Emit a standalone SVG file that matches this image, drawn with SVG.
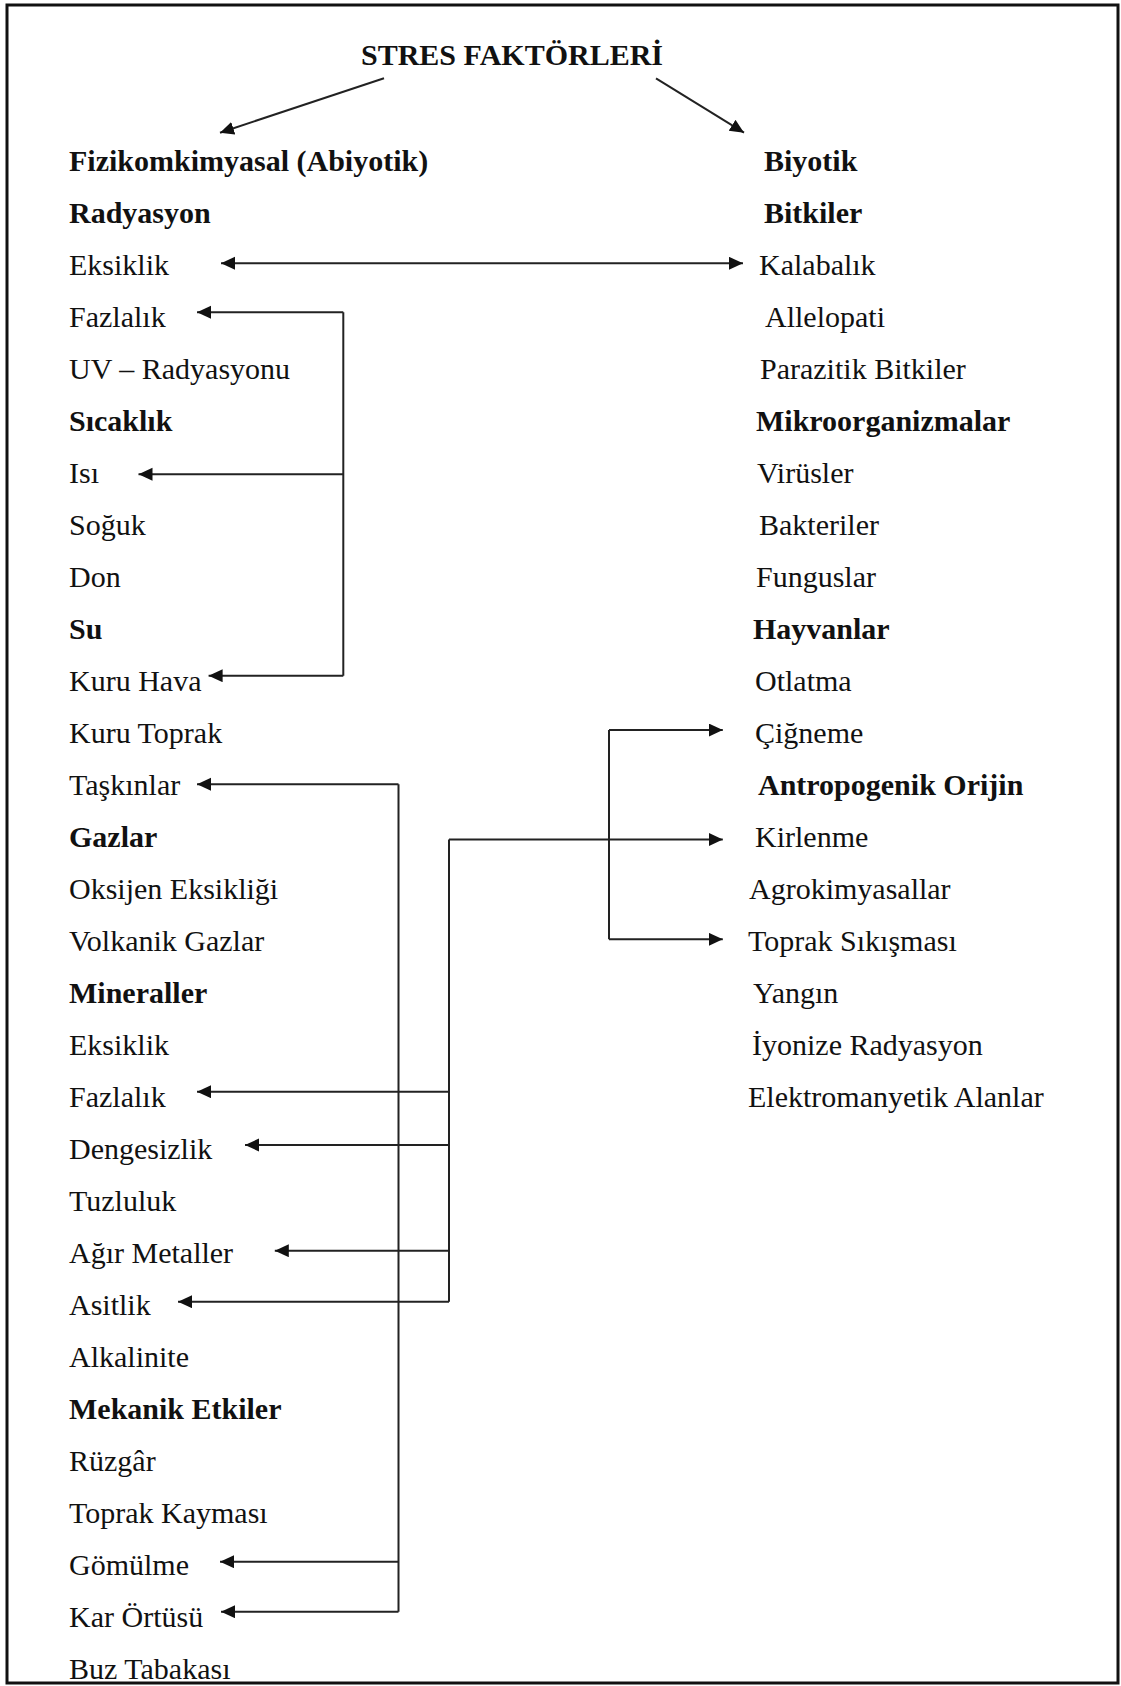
<svg xmlns="http://www.w3.org/2000/svg" width="1121" height="1686" viewBox="0 0 1121 1686">
<defs>
<style>
text{font-family:"Liberation Serif","Times New Roman",serif;font-size:30px;fill:#111}
.b{font-weight:bold}
.ln{fill:none;stroke:#222;stroke-width:2}
</style>
<marker id="ah" markerUnits="userSpaceOnUse" markerWidth="16" markerHeight="14" refX="14" refY="6.5" orient="auto-start-reverse">
<path d="M0,0 L14,6.5 L0,13 Z" fill="#111"/>
</marker>
</defs>
<rect x="0" y="0" width="1121" height="1686" fill="#fff"/>
<rect x="7" y="5" width="1111" height="1678" fill="none" stroke="#111" stroke-width="3"/>

<g id="title"><text class="b" x="361" y="65">STRES FAKTÖRLERİ</text></g>

<g id="left-column">
<g id="l0"><text class="b" x="69" y="170.7">Fizikomkimyasal (Abiyotik)</text></g>
<g id="l1"><text class="b" x="69" y="222.7">Radyasyon</text></g>
<g id="l2"><text x="69" y="274.7">Eksiklik</text></g>
<g id="l3"><text x="69" y="326.7">Fazlalık</text></g>
<g id="l4"><text x="69" y="378.7">UV – Radyasyonu</text></g>
<g id="l5"><text class="b" x="69" y="430.7">Sıcaklık</text></g>
<g id="l6"><text x="69" y="482.7">Isı</text></g>
<g id="l7"><text x="69" y="534.7">Soğuk</text></g>
<g id="l8"><text x="69" y="586.7">Don</text></g>
<g id="l9"><text class="b" x="69" y="638.7">Su</text></g>
<g id="l10"><text x="69" y="690.7">Kuru Hava</text></g>
<g id="l11"><text x="69" y="742.7">Kuru Toprak</text></g>
<g id="l12"><text x="69" y="794.7">Taşkınlar</text></g>
<g id="l13"><text class="b" x="69" y="846.7">Gazlar</text></g>
<g id="l14"><text x="69" y="898.7">Oksijen Eksikliği</text></g>
<g id="l15"><text x="69" y="950.7">Volkanik Gazlar</text></g>
<g id="l16"><text class="b" x="69" y="1002.7">Mineraller</text></g>
<g id="l17"><text x="69" y="1054.7">Eksiklik</text></g>
<g id="l18"><text x="69" y="1106.7">Fazlalık</text></g>
<g id="l19"><text x="69" y="1158.7">Dengesizlik</text></g>
<g id="l20"><text x="69" y="1210.7">Tuzluluk</text></g>
<g id="l21"><text x="69" y="1262.7">Ağır Metaller</text></g>
<g id="l22"><text x="69" y="1314.7">Asitlik</text></g>
<g id="l23"><text x="69" y="1366.7">Alkalinite</text></g>
<g id="l24"><text class="b" x="69" y="1418.7">Mekanik Etkiler</text></g>
<g id="l25"><text x="69" y="1470.7">Rüzgâr</text></g>
<g id="l26"><text x="69" y="1522.7">Toprak Kayması</text></g>
<g id="l27"><text x="69" y="1574.7">Gömülme</text></g>
<g id="l28"><text x="69" y="1626.7">Kar Örtüsü</text></g>
<g id="l29"><text x="69" y="1678.7">Buz Tabakası</text></g>
</g>

<g id="right-column">
<g id="r0"><text class="b" x="764" y="170.7">Biyotik</text></g>
<g id="r1"><text class="b" x="764" y="222.7">Bitkiler</text></g>
<g id="r2"><text x="759" y="274.7">Kalabalık</text></g>
<g id="r3"><text x="765" y="326.7">Allelopati</text></g>
<g id="r4"><text x="760" y="378.7">Parazitik Bitkiler</text></g>
<g id="r5"><text class="b" x="756" y="430.7">Mikroorganizmalar</text></g>
<g id="r6"><text x="757" y="482.7">Virüsler</text></g>
<g id="r7"><text x="759" y="534.7">Bakteriler</text></g>
<g id="r8"><text x="756" y="586.7">Funguslar</text></g>
<g id="r9"><text class="b" x="753" y="638.7">Hayvanlar</text></g>
<g id="r10"><text x="755" y="690.7">Otlatma</text></g>
<g id="r11"><text x="755" y="742.7">Çiğneme</text></g>
<g id="r12"><text class="b" x="758" y="794.7">Antropogenik Orijin</text></g>
<g id="r13"><text x="755" y="846.7">Kirlenme</text></g>
<g id="r14"><text x="749" y="898.7">Agrokimyasallar</text></g>
<g id="r15"><text x="748" y="950.7">Toprak Sıkışması</text></g>
<g id="r16"><text x="753" y="1002.7">Yangın</text></g>
<g id="r17"><text x="752" y="1054.7">İyonize Radyasyon</text></g>
<g id="r18"><text x="748" y="1106.7">Elektromanyetik Alanlar</text></g>
</g>

<g id="connectors">
<line class="ln" x1="384" y1="78.3" x2="220" y2="132.7" marker-end="url(#ah)"/>
<line class="ln" x1="656" y1="78.3" x2="744" y2="132.7" marker-end="url(#ah)"/>
<line class="ln" x1="221" y1="263.3" x2="743" y2="263.3" marker-start="url(#ah)" marker-end="url(#ah)"/>

<polyline class="ln" points="343.3,312.3 343.3,675.7"/>
<line class="ln" x1="343.3" y1="312.3" x2="197" y2="312.3" marker-end="url(#ah)"/>
<line class="ln" x1="343.3" y1="474.3" x2="138.5" y2="474.3" marker-end="url(#ah)"/>
<line class="ln" x1="343.3" y1="675.7" x2="208.6" y2="675.7" marker-end="url(#ah)"/>

<polyline class="ln" points="398.5,784.3 398.5,1611.7"/>
<line class="ln" x1="398.5" y1="784.3" x2="197" y2="784.3" marker-end="url(#ah)"/>
<line class="ln" x1="398.5" y1="1561.7" x2="220" y2="1561.7" marker-end="url(#ah)"/>
<line class="ln" x1="398.5" y1="1611.7" x2="221" y2="1611.7" marker-end="url(#ah)"/>

<polyline class="ln" points="449,839.5 449,1301.7"/>
<line class="ln" x1="449" y1="839.5" x2="722.8" y2="839.5" marker-end="url(#ah)"/>
<line class="ln" x1="449" y1="1091.7" x2="197" y2="1091.7" marker-end="url(#ah)"/>
<line class="ln" x1="449" y1="1145" x2="245" y2="1145" marker-end="url(#ah)"/>
<line class="ln" x1="449" y1="1250.7" x2="274.8" y2="1250.7" marker-end="url(#ah)"/>
<line class="ln" x1="449" y1="1301.7" x2="178" y2="1301.7" marker-end="url(#ah)"/>

<polyline class="ln" points="609,730 609,939.3"/>
<line class="ln" x1="609" y1="730" x2="722.8" y2="730" marker-end="url(#ah)"/>
<line class="ln" x1="609" y1="939.3" x2="722.8" y2="939.3" marker-end="url(#ah)"/>
</g>
</svg>
